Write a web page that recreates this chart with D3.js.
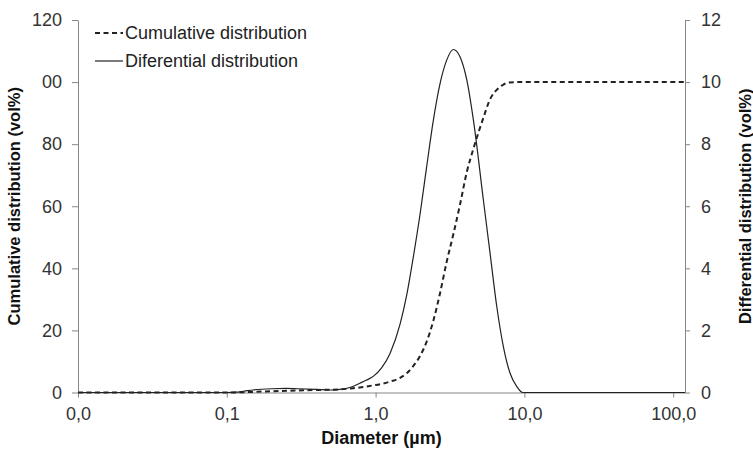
<!DOCTYPE html>
<html>
<head>
<meta charset="utf-8">
<script src="https://cdn.jsdelivr.net/npm/d3@7"></script>
<style>
  body { margin: 0; background: #fff; }
  svg { display: block; font-family: Arial, "Liberation Sans", sans-serif; }
  .axis .domain, .axis line { stroke: #868686; }
  .axis text { fill: #333; font-size: 18px; font-family: Arial, "Liberation Sans", sans-serif; }
</style>
</head>
<body>
<div id="chart"></div>
<script>
// Particle size distribution - cumulative (left axis) and differential (right axis)
const diameters = [0.01, 0.05, 0.1, 0.115, 0.13, 0.15, 0.2, 0.25, 0.3, 0.4, 0.5, 0.575, 0.68, 0.784, 0.87, 0.964,
  1.1, 1.25, 1.46, 1.62, 1.79, 1.99, 2.2, 2.44, 2.71, 3.0, 3.33, 3.69, 4.1, 4.54, 5.3, 5.88, 6.52, 7.22, 8.01, 8.89,
  9.75, 20, 50, 120];
const cumulative = [0, 0, 0, 0.02, 0.08, 0.2, 0.4, 0.55, 0.65, 0.8, 0.9, 1.0, 1.3, 1.6, 1.95, 2.3,
  2.8, 3.5, 4.7, 6.2, 8.5, 11.8, 16.3, 23, 32, 42, 51, 60.5, 71, 78.5, 88.5, 94.5, 97.5, 99.2, 99.9, 100,
  100, 100, 100, 100];
const differential = [0, 0, 0, 0.01, 0.04, 0.08, 0.12, 0.13, 0.12, 0.1, 0.08, 0.1, 0.17, 0.3, 0.4, 0.52,
  0.8, 1.26, 2.2, 3.15, 4.35, 5.75, 7.25, 8.75, 9.95, 10.7, 11.05, 10.82, 10.07, 8.78, 6.2, 4.48, 2.77, 1.48, 0.62, 0.19,
  0, 0, 0, 0];

const xTicks = [0.01, 0.1, 1, 10, 100];
const leftTicks = [0, 20, 40, 60, 80, 100, 120];
const rightTicks = [0, 2, 4, 6, 8, 10, 12];

const W = 753, H = 450;
const plot = { left: 78, right: 685, top: 20, bottom: 392.5 };

const svg = d3.select("#chart").append("svg")
  .attr("width", W)
  .attr("height", H);

const x = d3.scaleLog().domain([0.01, 120]).range([plot.left, plot.right]);
const yL = d3.scaleLinear().domain([0, 120]).range([plot.bottom, plot.top]);
const yR = d3.scaleLinear().domain([0, 12]).range([plot.bottom, plot.top]);

// axes
svg.append("g")
  .attr("class", "axis")
  .attr("transform", `translate(${plot.left},0)`)
  .call(d3.axisLeft(yL).tickValues(leftTicks).tickSize(6).tickSizeOuter(0).tickPadding(10)
    .tickFormat(d => d === 100 ? "00" : d));

svg.append("g")
  .attr("class", "axis")
  .attr("transform", `translate(${plot.right},0)`)
  .call(d3.axisRight(yR).tickValues(rightTicks).tickSize(5).tickSizeOuter(0).tickPadding(11));

svg.append("g")
  .attr("class", "axis")
  .attr("transform", `translate(0,${plot.bottom})`)
  .call(d3.axisBottom(x).tickValues(xTicks).tickSize(5).tickSizeOuter(0).tickPadding(10)
    .tickFormat(d => d3.format(".1f")(d).replace(".", ",")));

// series
const rows = diameters.map((d, i) => ({ d, c: cumulative[i], f: differential[i] }));

const lineDiff = d3.line()
  .x(r => x(r.d))
  .y(r => yR(r.f))
  .curve(d3.curveMonotoneX);

const lineCum = d3.line()
  .x(r => x(r.d))
  .y(r => yL(r.c))
  .curve(d3.curveMonotoneX);

svg.append("path")
  .datum(rows)
  .attr("d", lineDiff)
  .attr("fill", "none")
  .attr("stroke", "#222")
  .attr("stroke-width", 1.2);

svg.append("path")
  .datum(rows)
  .attr("d", lineCum)
  .attr("fill", "none")
  .attr("stroke", "#222")
  .attr("stroke-width", 2)
  .attr("stroke-dasharray", "5,3.5");

// legend
const legendItems = [
  { label: "Cumulative distribution", dash: "5,3.5", width: 2 },
  { label: "Diferential distribution", dash: null, width: 1.2 }
];
legendItems.forEach((item, i) => {
  const ly = 33 + i * 28;
  svg.append("line")
    .attr("x1", 95).attr("x2", 123)
    .attr("y1", ly).attr("y2", ly)
    .attr("stroke", "#222")
    .attr("stroke-width", item.width)
    .attr("stroke-dasharray", item.dash);
  svg.append("text")
    .attr("x", 125)
    .attr("y", ly + 6)
    .attr("font-size", 18)
    .attr("fill", "#222")
    .text(item.label);
});

// axis titles
svg.append("text")
  .attr("transform", `translate(20,${(plot.top + plot.bottom) / 2}) rotate(-90)`)
  .attr("text-anchor", "middle")
  .attr("font-size", 16.5)
  .attr("font-weight", "bold")
  .attr("fill", "#111")
  .text("Cumulative distribution (vol%)");

svg.append("text")
  .attr("transform", `translate(751,${(plot.top + plot.bottom) / 2}) rotate(-90)`)
  .attr("text-anchor", "middle")
  .attr("font-size", 16.5)
  .attr("font-weight", "bold")
  .attr("fill", "#111")
  .text("Differential distribution (vol%)");

svg.append("text")
  .attr("x", (plot.left + plot.right) / 2)
  .attr("y", 444)
  .attr("text-anchor", "middle")
  .attr("font-size", 18)
  .attr("font-weight", "bold")
  .attr("fill", "#111")
  .text("Diameter (µm)");
</script>
</body>
</html>
